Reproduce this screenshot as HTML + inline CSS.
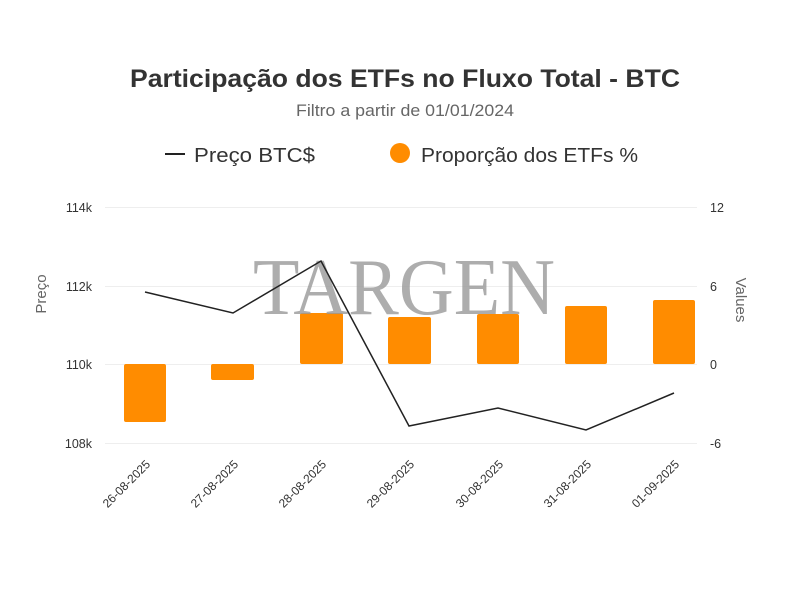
<!DOCTYPE html>
<html><head><meta charset="utf-8"><style>
body{margin:0;background:#fff;width:800px;height:600px;overflow:hidden}
svg text{font-family:"Liberation Sans",sans-serif}
</style></head><body>
<svg width="800" height="600" viewBox="0 0 800 600">
<text x="405" y="87" text-anchor="middle" font-size="25" font-weight="bold" fill="#333" textLength="550" lengthAdjust="spacingAndGlyphs">Participação dos ETFs no Fluxo Total - BTC</text>
<text x="405" y="116" text-anchor="middle" font-size="17" fill="#666" textLength="218" lengthAdjust="spacingAndGlyphs">Filtro a partir de 01/01/2024</text>
<line x1="165" y1="154" x2="185" y2="154" stroke="#222" stroke-width="2"/>
<text x="194" y="162" font-size="20" fill="#333" textLength="121" lengthAdjust="spacingAndGlyphs">Preço  BTC$</text>
<circle cx="400" cy="153" r="10" fill="#ff8c00"/>
<text x="421" y="162" font-size="20" fill="#333" textLength="217" lengthAdjust="spacingAndGlyphs">Proporção dos ETFs %</text>
<g stroke="#eee" stroke-width="1">
<line x1="105" y1="207.5" x2="697" y2="207.5"/><line x1="105" y1="286.5" x2="697" y2="286.5"/>
<line x1="105" y1="364.5" x2="697" y2="364.5"/><line x1="105" y1="443.5" x2="697" y2="443.5"/>
</g>
<g font-size="12.5" fill="#333">
<text x="92" y="212" text-anchor="end">114k</text><text x="92" y="291" text-anchor="end">112k</text>
<text x="92" y="369" text-anchor="end">110k</text><text x="92" y="448" text-anchor="end">108k</text>
<text x="710" y="212">12</text><text x="710" y="291">6</text><text x="710" y="369">0</text><text x="710" y="448">-6</text>
</g>
<text transform="translate(46,294) rotate(-90)" text-anchor="middle" font-size="15" fill="#666">Preço</text>
<text transform="translate(736,300) rotate(90)" text-anchor="middle" font-size="15" fill="#666">Values</text>
<g fill="#ff8c00">
<rect x="124" y="364" width="42" height="58" rx="2"/>
<rect x="211" y="364" width="43" height="16" rx="2"/>
<rect x="300" y="313" width="43" height="51" rx="2"/>
<rect x="388" y="317" width="43" height="47" rx="2"/>
<rect x="477" y="314" width="42" height="50" rx="2"/>
<rect x="565" y="306" width="42" height="58" rx="2"/>
<rect x="653" y="300" width="42" height="64" rx="2"/>
</g>
<text x="404" y="314" text-anchor="middle" font-size="80" fill="#999" fill-opacity="0.8" textLength="302" lengthAdjust="spacingAndGlyphs" style="font-family:'Liberation Serif',serif">TARGEN</text>
<polyline points="145,292 233,313 321,261 409,426 498,408 586,430 674,393" fill="none" stroke="#222" stroke-width="1.5"/>
<g font-size="12" fill="#333">
<text transform="translate(151,465) rotate(-45)" text-anchor="end">26-08-2025</text>
<text transform="translate(239,465) rotate(-45)" text-anchor="end">27-08-2025</text>
<text transform="translate(327,465) rotate(-45)" text-anchor="end">28-08-2025</text>
<text transform="translate(415,465) rotate(-45)" text-anchor="end">29-08-2025</text>
<text transform="translate(504,465) rotate(-45)" text-anchor="end">30-08-2025</text>
<text transform="translate(592,465) rotate(-45)" text-anchor="end">31-08-2025</text>
<text transform="translate(680,465) rotate(-45)" text-anchor="end">01-09-2025</text>
</g>
</svg>
</body></html>
